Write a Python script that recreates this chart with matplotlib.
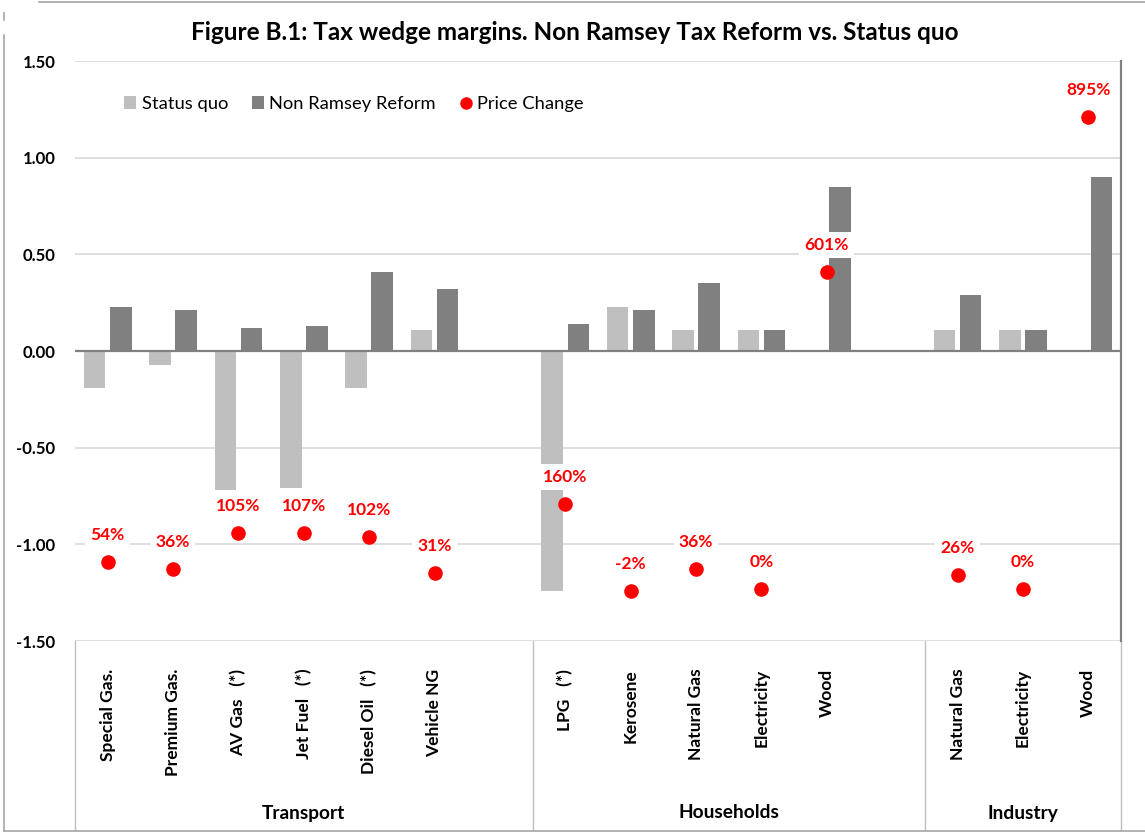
import numpy as np
import matplotlib
matplotlib.use("Agg")
import matplotlib.pyplot as plt
from matplotlib.patches import Patch
from matplotlib.lines import Line2D
from matplotlib.transforms import blended_transform_factory

plt.rcParams['font.family'] = ['Lato', 'DejaVu Sans']

# ---- data ----
categories = ["Special Gas.", "Premium Gas.", "AV Gas   (*)", "Jet Fuel   (*)",
              "Diesel Oil   (*)", "Vehicle NG", "",
              "LPG   (*)", "Kerosene", "Natural Gas", "Electricity", "Wood", "",
              "Natural Gas", "Electricity", "Wood"]
status_quo = [-0.19, -0.07, -0.72, -0.71, -0.19, 0.11, np.nan,
              -1.24, 0.23, 0.11, 0.11, np.nan, np.nan,
              0.11, 0.11, np.nan]
non_ramsey = [0.23, 0.21, 0.12, 0.13, 0.41, 0.32, np.nan,
              0.14, 0.21, 0.35, 0.11, 0.85, np.nan,
              0.29, 0.11, 0.90]
price_change = [-1.09, -1.13, -0.94, -0.94, -0.96, -1.15, np.nan,
                -0.79, -1.24, -1.13, -1.23, 0.41, np.nan,
                -1.16, -1.23, 1.21]
price_labels = ["54%", "36%", "105%", "107%", "102%", "31%", "",
                "160%", "-2%", "36%", "0%", "601%", "",
                "26%", "0%", "895%"]
groups = ["Transport", "Households", "Industry"]
group_sizes = [7, 6, 3]
yticks = [-1.5, -1.0, -0.5, 0.0, 0.5, 1.0, 1.5]

# ---- colours ----
C_SQ = "#bfbfbf"
C_NR = "#808080"
C_RED = "#ff0000"
C_GRID = "#d9d9d9"

W, H = 1145, 832
fig = plt.figure(figsize=(W / 100, H / 100), dpi=100)
ax_l, ax_r, ax_t, ax_b = 75, 1121, 61, 641
ax = fig.add_axes([ax_l / W, 1 - ax_b / H, (ax_r - ax_l) / W, (ax_b - ax_t) / H])

x = np.arange(len(categories))
bw = 0.33
ax.bar(x - 0.2, status_quo, width=bw, color=C_SQ, zorder=2, label="Status quo")
ax.bar(x + 0.2, non_ramsey, width=bw, color=C_NR, zorder=2, label="Non Ramsey Reform")
ax.axhline(0, color=C_NR, lw=1.6, zorder=3)
ax.plot(x, price_change, linestyle="none", marker="o", markersize=10.5,
        color=C_RED, markeredgewidth=0, zorder=6)

for xi, yi, lab in zip(x, price_change, price_labels):
    if lab and not np.isnan(yi):
        ax.annotate(lab, (xi, yi), xytext=(0, 27), textcoords="offset pixels",
                    ha="center", va="center", color=C_RED, fontsize=12.5,
                    fontweight="bold", zorder=5,
                    bbox=dict(boxstyle="square,pad=0.3", fc="white", ec="none"))

ax.set_xlim(-0.5, len(categories) - 0.5)
ax.set_ylim(-1.5, 1.5)
ax.set_yticks(yticks)
ax.set_yticklabels([f"{v:.2f}" for v in yticks], fontsize=12, fontweight="bold")
ax.yaxis.grid(True, color=C_GRID, lw=1.2, zorder=0)
ax.set_axisbelow(True)
ax.tick_params(axis="y", length=0, pad=14)
ax.set_xticks(x)
ax.set_xticklabels(categories, rotation=90, fontsize=12.5, fontweight="bold",
                   va="top", ha="center")
ax.tick_params(axis="x", length=0, pad=20)

for s in ["top", "left", "bottom"]:
    ax.spines[s].set_visible(False)
ax.spines["right"].set_color(C_NR)
ax.spines["right"].set_linewidth(1.6)

# ---- grouped category box ----
axh = ax_b - ax_t
y_box_bot = -(830.5 - ax_b) / axh
y_grp = -(813 - ax_b) / axh
trans = blended_transform_factory(ax.transData, ax.transAxes)
bounds = np.concatenate([[0], np.cumsum(group_sizes)]) - 0.5
for b in bounds:
    ax.add_line(Line2D([b, b], [0, y_box_bot], transform=trans, color="#bfbfbf",
                       lw=1.0, clip_on=False))
for g, lo, hi in zip(groups, bounds[:-1], bounds[1:]):
    ax.text((lo + hi) / 2, y_grp, g, transform=trans, ha="center", va="center",
            fontsize=13.8, fontweight="bold")

# ---- legend ----
handles = [Patch(facecolor=C_SQ, edgecolor="none", label="Status quo"),
           Patch(facecolor=C_NR, edgecolor="none", label="Non Ramsey Reform"),
           Line2D([], [], linestyle="none", marker="o", markersize=9,
                  color=C_RED, markeredgewidth=0, label="Price Change")]
ax.legend(handles=handles, loc="center left",
          bbox_to_anchor=((124 - ax_l) / (ax_r - ax_l), (ax_b - 104) / axh),
          ncol=3, frameon=False, fontsize=13.2, handlelength=0.66,
          handleheight=0.66, handletextpad=0.3, columnspacing=1.3,
          borderaxespad=0, borderpad=0)

# ---- title ----
fig.text(575 / W, 1 - 32 / H,
         "Figure B.1: Tax wedge margins. Non Ramsey Tax Reform vs. Status quo",
         ha="center", va="center", fontsize=17.5, fontweight="bold")

# ---- outer chart border (cropped) ----
bc = "#a6a6a6"
fig.add_artist(Line2D([39 / W, 1], [1 - 2 / H, 1 - 2 / H], transform=fig.transFigure,
                      color=bc, lw=1.2))
fig.add_artist(Line2D([4 / W, 4 / W], [1 - 35 / H, 1 - 831 / H], transform=fig.transFigure,
                      color=bc, lw=1.2))
fig.add_artist(Line2D([4 / W, 4 / W], [1 - 13 / H, 1 - 20 / H], transform=fig.transFigure,
                      color=bc, lw=1.2))
fig.add_artist(Line2D([4 / W, 1], [1 - 830.5 / H, 1 - 830.5 / H], transform=fig.transFigure,
                      color=bc, lw=1.2))

fig.savefig("out.png", dpi=100, facecolor="white")
